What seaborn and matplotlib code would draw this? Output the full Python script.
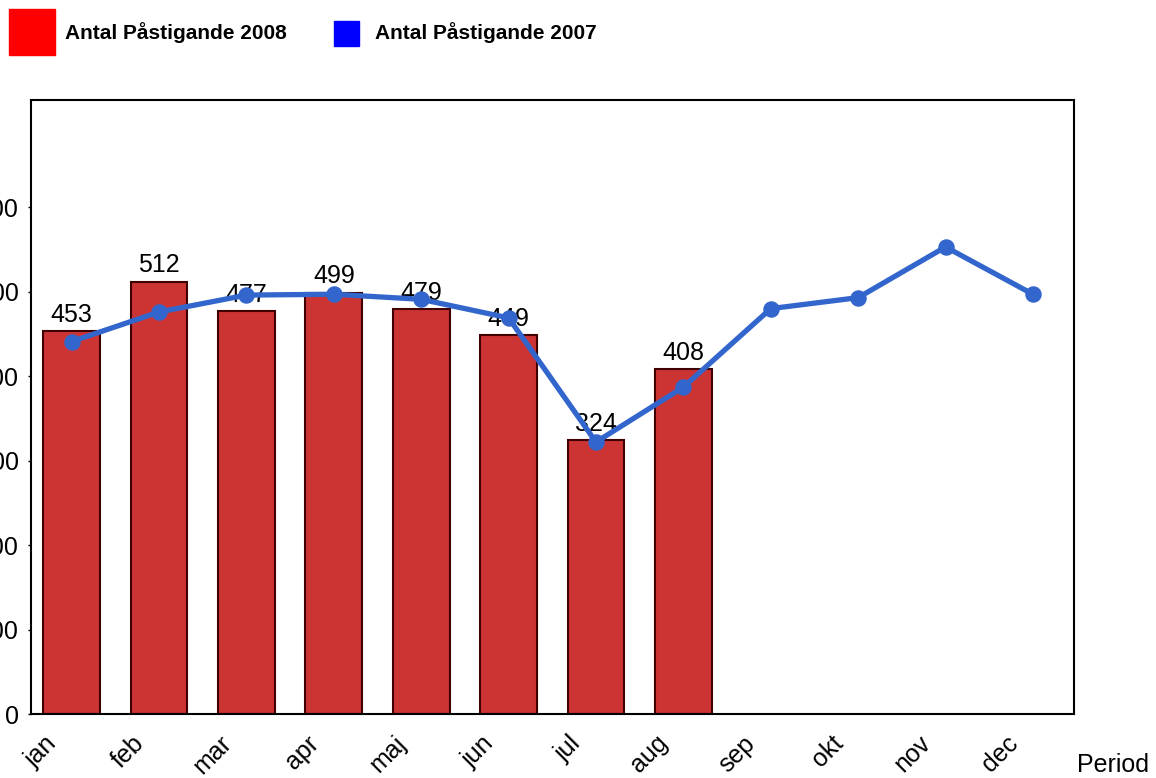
import pandas as pd
import seaborn as sns
from matplotlib import pyplot as plt
from matplotlib.patches import Rectangle
from matplotlib.transforms import ScaledTranslation

months = ["jan", "feb", "mar", "apr", "maj", "jun", "jul", "aug", "sep", "okt", "nov", "dec"]
pastigande_2008 = [453, 512, 477, 499, 479, 449, 324, 408]
pastigande_2007 = [441, 476, 496, 497, 491, 469, 322, 387, 480, 493, 553, 497]
y_ticks = [0, 100, 200, 300, 400, 500, 600]
label_2008 = "Antal Påstigande 2008"
label_2007 = "Antal Påstigande 2007"

sns.set_theme(style="white")
plt.rcParams['font.family'] = ['Liberation Sans', 'DejaVu Sans']
plt.rcParams.update({"text.color": "black", "axes.labelcolor": "black",
                     "xtick.color": "black", "ytick.color": "black"})

df08 = pd.DataFrame({"month": months[:len(pastigande_2008)], "value": pastigande_2008})
df07 = pd.DataFrame({"month": months, "value": pastigande_2007})

fig = plt.figure(figsize=(11.56, 7.78), dpi=100)
ax = fig.add_axes([31 / 1156, 1 - 714 / 778, 1043 / 1156, 614 / 778])

# bars for 2008
sns.barplot(data=df08, x="month", y="value", order=months, color="#CC3333",
            saturation=1, width=0.65, edgecolor="#400000", linewidth=1.5, ax=ax)
for container in ax.containers:
    ax.bar_label(container, fontsize=18, padding=3, zorder=2)

# line for 2007
sns.pointplot(data=df07, x="month", y="value", order=months, color="#3366CC",
              markers="o", markersize=9, linewidth=3.8, ax=ax, zorder=4)

ax.set_xlim(-0.465, 11.47)
ax.set_ylim(0, 727)
ax.set_yticks(y_ticks)
ax.tick_params(axis="y", labelsize=18, length=2.5, width=1, direction="out", pad=6.5, left=True)
ax.tick_params(axis="x", labelsize=18, length=0, pad=4)
ax.set_xticks(range(len(months)))
ax.set_xticklabels(months, rotation=45, ha="right", va="center", rotation_mode="anchor")
shift = ScaledTranslation(-0.19, -0.20, fig.dpi_scale_trans)
for lbl in ax.get_xticklabels():
    lbl.set_transform(lbl.get_transform() + shift)
ax.set_ylabel("")
ax.set_xlabel("Period", fontsize=18, ha="left", va="center")
ax.xaxis.set_label_coords(1.003, -0.083)
for s in ax.spines.values():
    s.set_color("black")
    s.set_linewidth(1.5)

# legend at top
fig.add_artist(Rectangle((9 / 1156, 1 - 55 / 778), 46 / 1156, 46 / 778,
                         transform=fig.transFigure, color="#FF0000"))
fig.add_artist(Rectangle((334 / 1156, 1 - 46 / 778), 25 / 1156, 25 / 778,
                         transform=fig.transFigure, color="#0000FF"))
fig.text(65 / 1156, 1 - 33 / 778, label_2008, fontsize=15, fontweight="bold", va="center")
fig.text(375 / 1156, 1 - 33 / 778, label_2007, fontsize=15, fontweight="bold", va="center")

fig.savefig("out.png", dpi=100)
